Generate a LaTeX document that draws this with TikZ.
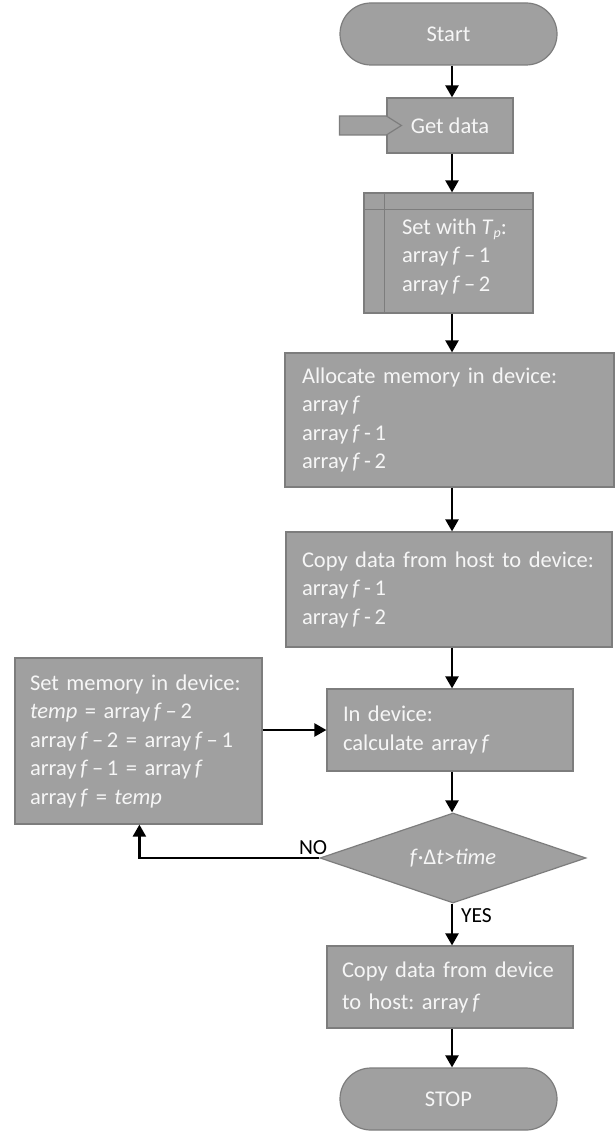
\documentclass[tikz,border=0pt]{standalone}
\usepackage{fontspec}
\setmainfont{Carlito}
\usetikzlibrary{shapes.geometric,arrows.meta,calc}
\definecolor{boxfill}{RGB}{160,160,160}
\definecolor{boxline}{RGB}{125,125,125}
\definecolor{boxtext}{RGB}{246,246,246}
\newcommand{\oneline}[1]{\mbox{#1}}
\frenchspacing
\begin{document}
\begin{tikzpicture}[x=1pt,y=-1pt,
  box/.style={draw=boxline, fill=boxfill, line width=1.2pt, text=boxtext,
    font=\fontsize{22.5}{28.5}\selectfont, inner xsep=17pt, inner ysep=0pt, align=left},
  term/.style={box, rounded corners=31pt, align=center, inner xsep=0pt},
  arr/.style={line width=2.3pt, draw=black, -{Triangle[length=12pt,width=13pt]}},
  lab/.style={font=\fontsize{21.5}{21.5}\selectfont, inner sep=0pt, text=black}]

\useasboundingbox (0,0) rectangle (615,1131);
\fill[white] (0,0) rectangle (615,1131);

% nodes
\node[term, minimum width=217pt, minimum height=62pt] (start) at (448.5,34) {Start};
\node[box, align=center, inner xsep=0pt, minimum width=126pt, minimum height=55pt] (get) at (450,125.5) {Get data};
\draw[boxline, fill=boxfill, line width=1.2pt]
  ($(get.west)+(-47,-9.5)$) -- ($(get.west)+(0,-9.5)$) -- ($(get.west)+(15,0)$)
  -- ($(get.west)+(0,9.5)$) -- ($(get.west)+(-47,9.5)$) -- cycle;

\node[box, minimum width=169pt, minimum height=120pt] (settp) at (448.5,253) {};
\draw[boxline, line width=1.2pt] ($(settp.north west)+(21,0)$) -- ($(settp.south west)+(21,0)$);
\draw[boxline, line width=1.2pt] ($(settp.north west)+(0,17)$) -- ($(settp.north east)+(0,17)$);
\node[box, draw=none, fill=none, inner xsep=0pt, anchor=west] (settpt) at ($(settp.west)+(38,4)$)
  {Set with \textit{T}{\fontsize{14}{14}\selectfont\raisebox{-3pt}{\textit{p}}}:\\
   array\,\textit{f}\,–\,1\\ array\,\textit{f}\,–\,2};

\node[box, text width=295pt, minimum width=329pt, minimum height=134pt] (alloc) at (449.5,420)
  {\oneline{Allocate memory in device:}\\ array\,\textit{f}\\ array\,\textit{f}\,-\,1\\ array\,\textit{f}\,-\,2};

\node[box, text width=294pt, inner xsep=16pt, minimum width=326pt, minimum height=115pt] (copyh) at (449,589.5)
  {\oneline{Copy data from host to device:}\\ array\,\textit{f}\,-\,1\\ array\,\textit{f}\,-\,2};

\node[box, text width=214pt, inner xsep=16pt, minimum width=246pt, minimum height=82pt] (indev) at (450,730)
  {In device:\\ calculate array\,\textit{f}};

\node[box, text width=217pt, inner xsep=15pt, minimum width=247pt, minimum height=166pt] (setmem) at (138.5,741)
  {\oneline{Set memory in device:}\\
   \oneline{\textit{temp} = array\,\textit{f}\,–\,2}\\
   \oneline{array\,\textit{f}\,–\,2 = array\,\textit{f}\,–\,1}\\
   \oneline{array\,\textit{f}\,–\,1 = array\,\textit{f}}\\
   \oneline{array\,\textit{f} = \textit{temp}}};

\node[diamond, aspect=2.96, draw=boxline, fill=boxfill, line width=1.2pt, text=boxtext,
  font=\fontsize{22.5}{28.5}\selectfont, inner sep=0pt, minimum width=266pt, minimum height=90pt] (dec) at (453,858)
  {\textit{f}·Δ\textit{t}>\textit{time}};

\node[box, text width=216pt, inner xsep=15pt, minimum width=246pt, minimum height=82pt,
  font=\fontsize{22.5}{32}\selectfont] (copyd) at (450,987)
  {\oneline{Copy data from device}\\ \oneline{to host: array\,\textit{f}}};

\node[term, minimum width=217pt, minimum height=62pt] (stop) at (448.5,1099) {STOP};

% connectors
\coordinate (ax) at (452,0);
\draw[arr] (start.south -| ax) -- (get.north -| ax);
\draw[arr] (get.south -| ax) -- (settp.north -| ax);
\draw[arr] (settp.south -| ax) -- (alloc.north -| ax);
\draw[arr] (alloc.south -| ax) -- (copyh.north -| ax);
\draw[arr] (copyh.south -| ax) -- (indev.north -| ax);
\draw[arr] (indev.south -| ax) -- (dec.north -| ax);
\draw[arr] (dec.south -| ax) -- (copyd.north -| ax);
\draw[arr] (copyd.south -| ax) -- (stop.north -| ax);
\draw[arr] (setmem.east |- indev.west) -- (indev.west);
\coordinate (loopend) at ($(setmem.south west)+(125,0)$);
\draw[arr] (dec.west) -| (loopend);

% labels
\node[lab, anchor=base east] (no) at ($(dec.west)+(8,-4)$) {NO};
\node[lab, anchor=base west] (yes) at ($(dec.south)+(8,19)$) {YES};
\end{tikzpicture}
\end{document}
